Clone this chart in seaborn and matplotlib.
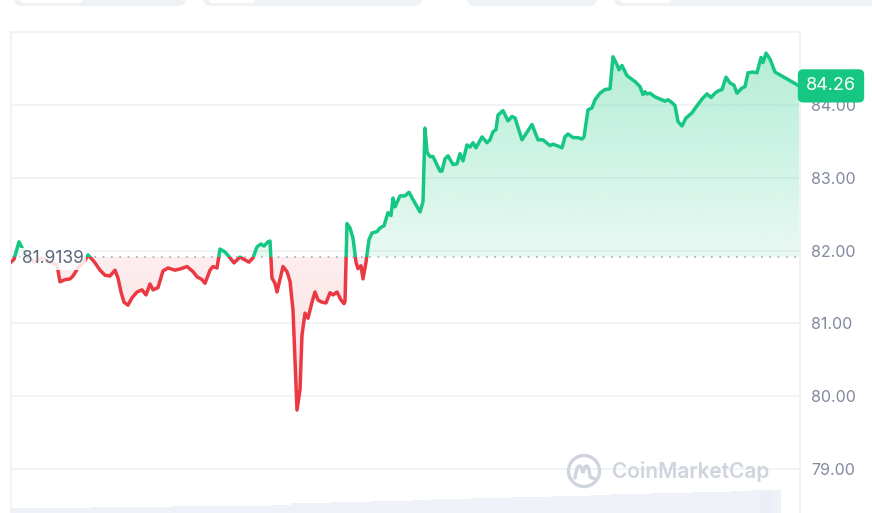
import numpy as np
import pandas as pd
import matplotlib
matplotlib.use('Agg')
import matplotlib.pyplot as plt
import matplotlib.colors as mcolors
import seaborn as sns
from matplotlib.path import Path
from matplotlib.patches import Rectangle, FancyBboxPatch, Circle, PathPatch
from matplotlib.transforms import blended_transform_factory

# temps (unitats arbitràries, 0 = inici de la finestra) i preu
temps = [0, 3, 8, 12, 17, 24, 31, 39, 46, 49, 54, 59, 62, 67, 73, 77, 81, 84, 89, 94,
         99, 104, 107, 110, 113, 117, 121, 126, 131, 135, 139, 142, 147, 152, 157, 164, 170, 176, 182, 186,
         191, 194, 199, 202, 206, 209, 214, 219, 223, 229, 234, 238, 242, 246, 250, 253, 257, 259, 261, 264,
         266, 272, 276, 279, 282, 284, 286, 289, 291, 294, 297, 301, 304, 307, 311, 315, 319, 322, 326, 330,
         333, 334, 336, 339, 342, 345, 347, 350, 352, 355, 358, 361, 366, 369, 373, 377, 380, 382, 384, 389,
         394, 398, 402, 409, 412, 414, 416, 419, 422, 429, 431, 434, 437, 442, 446, 449, 452, 456, 459, 462,
         465, 471, 476, 479, 482, 485, 487, 492, 497, 501, 504, 511, 521, 527, 532, 539, 542, 546, 551, 554,
         557, 562, 567, 571, 573, 577, 581, 584, 589, 594, 599, 602, 606, 608, 611, 616, 619, 624, 629, 632,
         634, 636, 639, 644, 649, 654, 657, 661, 664, 667, 671, 675, 681, 684, 691, 696, 700, 704, 707, 711,
         715, 719, 723, 726, 731, 734, 737, 742, 746, 750, 752, 755, 759, 764, 788]
preu = [81.84, 81.88, 82.12, 82.01, 81.90, 81.84, 81.90, 81.84, 81.80, 81.57,
        81.60, 81.61, 81.65, 81.76, 81.84, 81.94, 81.88, 81.83, 81.73, 81.66,
        81.65, 81.73, 81.62, 81.43, 81.29, 81.25, 81.35, 81.43, 81.46, 81.39,
        81.54, 81.46, 81.49, 81.72, 81.76, 81.73, 81.75, 81.78, 81.71, 81.64,
        81.60, 81.55, 81.73, 81.78, 81.76, 82.02, 81.98, 81.90, 81.83, 81.91,
        81.87, 81.84, 81.90, 82.05, 82.09, 82.06, 82.12, 82.13, 81.62, 81.55,
        81.43, 81.78, 81.71, 81.58, 81.18, 80.50, 79.81, 80.09, 80.84, 81.14,
        81.07, 81.29, 81.43, 81.32, 81.29, 81.28, 81.42, 81.39, 81.43, 81.32,
        81.27, 81.30, 82.37, 82.31, 82.17, 81.84, 81.75, 81.79, 81.61, 81.84,
        82.15, 82.24, 82.26, 82.31, 82.34, 82.52, 82.48, 82.72, 82.60, 82.75,
        82.75, 82.80, 82.70, 82.53, 82.67, 83.68, 83.35, 83.29, 83.29, 83.09,
        83.09, 83.26, 83.30, 83.18, 83.19, 83.33, 83.23, 83.45, 83.42, 83.48,
        83.41, 83.56, 83.48, 83.52, 83.63, 83.66, 83.86, 83.92, 83.78, 83.84,
        83.82, 83.52, 83.73, 83.52, 83.52, 83.44, 83.46, 83.44, 83.41, 83.56,
        83.60, 83.55, 83.55, 83.53, 83.56, 83.93, 83.96, 84.07, 84.16, 84.21,
        84.22, 84.66, 84.55, 84.48, 84.54, 84.40, 84.37, 84.32, 84.25, 84.14,
        84.18, 84.15, 84.16, 84.11, 84.08, 84.05, 84.07, 84.03, 83.99, 83.77,
        83.71, 83.82, 83.89, 83.95, 84.08, 84.15, 84.10, 84.16, 84.19, 84.21,
        84.38, 84.30, 84.27, 84.16, 84.23, 84.25, 84.44, 84.45, 84.44, 84.65,
        84.58, 84.71, 84.63, 84.45, 84.26]

preu_obertura = 81.9139
preu_actual = 84.26
ticks_y = [79, 80, 81, 82, 83, 84]

# volum (barres tènues a la part baixa)
temps_vol = [10, 30, 50, 70, 90, 110, 130, 150, 170, 190, 210, 230, 250, 270, 290, 310, 330, 350, 370, 390,
             410, 430, 450, 470, 490, 510, 530, 550, 570, 590, 610, 630, 650, 670, 690, 710, 730, 750, 760]
volum = [5, 5, 5, 5.5, 6, 6, 6, 6.5, 7, 7, 7, 7.5, 7.5, 8, 10, 10.5, 11, 11.5, 12, 12.5,
         13, 14, 14.5, 15, 15.5, 16, 16.5, 17, 17.5, 18, 19, 19.5, 20, 20.5, 21, 21.5, 22, 23, 23]

VERD = '#16c784'
VERMELL = '#ea3943'
GRAELLA = '#eff2f5'
TEXT_EIX = '#808a9d'
MARCA = '#cfd4de'

sns.set_theme(style='white')
plt.rcParams['font.family'] = ['Inter', 'DejaVu Sans']

W, H = 872, 513
fig = plt.figure(figsize=(W / 100, H / 100), dpi=100)
fig.patch.set_facecolor('white')

x_max = 789
y_min, y_max = 78.396, 85.0
ax = fig.add_axes([11 / W, 0, 789 / W, 481 / H])
ax.set_facecolor('white')

df = pd.DataFrame({'t': temps, 'preu': preu})
t = np.array(temps, dtype=float)
p = np.array(preu)

for v in ticks_y:
    ax.axhline(v, color=GRAELLA, lw=1.2, zorder=0)


def farciment_degradat(poly, color, a_dalt, a_baix, y0, y1):
    cami = Path.make_compound_path(*poly.get_paths())
    rgba = np.zeros((256, 1, 4))
    rgba[..., :3] = mcolors.to_rgb(color)
    rgba[..., 3] = np.linspace(a_dalt, a_baix, 256)[:, None]
    im = ax.imshow(rgba, extent=[0, x_max, y0, y1], origin='upper', aspect='auto',
                   zorder=1, interpolation='bicubic')
    im.set_clip_path(cami, ax.transData)


pv = ax.fill_between(t, p, preu_obertura, where=p >= preu_obertura, interpolate=True,
                     facecolor='none', edgecolor='none')
pr = ax.fill_between(t, p, preu_obertura, where=p <= preu_obertura, interpolate=True,
                     facecolor='none', edgecolor='none')
farciment_degradat(pv, VERD, 0.34, 0.10, preu_obertura, y_max)
farciment_degradat(pr, VERMELL, 0.09, 0.22, y_min, preu_obertura)

ax.axhline(preu_obertura, color='#a6acb9', lw=1.2, ls=(0, (1, 4)), zorder=2)

# línia verda per sobre i vermella per sota del preu d'obertura
sns.lineplot(data=df, x='t', y='preu', ax=ax, color=VERD, lw=2.5, sort=False, zorder=4)
linia_v = ax.lines[-1]
linia_v.set_clip_path(Rectangle((0, preu_obertura), x_max, 10, transform=ax.transData))
sns.lineplot(data=df, x='t', y='preu', ax=ax, color=VERMELL, lw=2.5, sort=False, zorder=4)
linia_r = ax.lines[-1]
linia_r.set_clip_path(Rectangle((0, y_min - 5), x_max, preu_obertura - y_min + 5,
                                transform=ax.transData))

ax.set_xlim(0, x_max)
ax.set_ylim(y_min, y_max)
ax.set_xlabel('')
ax.set_ylabel('')
ax.set_xticks([])
ax.set_yticks(ticks_y)
ax.set_yticklabels([f'{v:.2f}' for v in ticks_y])
ax.yaxis.tick_right()
ax.tick_params(axis='y', length=0, pad=8, labelsize=11.5, labelcolor=TEXT_EIX)
for lloc in ['top', 'left', 'right']:
    ax.spines[lloc].set_color(GRAELLA)
    ax.spines[lloc].set_linewidth(1.2)
ax.spines['bottom'].set_visible(False)

mix = blended_transform_factory(ax.transAxes, ax.transData)
ax.text(1 + 31 / x_max, preu_actual, f'{preu_actual:.2f}', transform=mix, ha='center',
        va='center', color='white', fontsize=13, clip_on=False, zorder=10,
        bbox=dict(boxstyle='round,pad=0.45,rounding_size=0.3', fc=VERD, ec='none'))
ax.text(11 / x_max, preu_obertura - 0.03, f'{preu_obertura:.4f}', transform=mix, ha='left',
        va='center', color='#58667e', fontsize=12.5, zorder=6,
        bbox=dict(boxstyle='square,pad=0.12', fc='white', ec='none', alpha=0.85))

# volum
axv = fig.add_axes([11 / W, 0, 789 / W, 40 / H])
axv.bar(temps_vol, volum, width=20, color='#eaedf7', alpha=0.75, linewidth=0)
axv.set_xlim(0, x_max)
axv.set_ylim(0, 40)
axv.axis('off')
axv.patch.set_alpha(0)

# marca d'aigua: logotip (cercle amb una "M" ondulada) i nom
cx, cy = 584, H - 471
fig.patches.append(Circle((cx / 100, cy / 100), 0.155, transform=fig.dpi_scale_trans,
                          fill=False, ec=MARCA, lw=2.4))
ona = Path([(cx - 9, cy - 7), (cx - 7, cy + 8), (cx - 3, cy + 8), (cx - 1, cy - 2),
            (cx + 1, cy + 8), (cx + 5, cy + 8), (cx + 6, cy - 6), (cx + 11, cy - 8)],
           [Path.MOVETO, Path.CURVE4, Path.CURVE4, Path.CURVE4,
            Path.CURVE4, Path.CURVE4, Path.CURVE4, Path.LINETO])
ona = Path(ona.vertices / 100, ona.codes)
fig.patches.append(PathPatch(ona, transform=fig.dpi_scale_trans, fill=False, ec=MARCA, lw=2.4,
                             capstyle='round'))
fig.text(612 / W, 1 - 472 / H, 'CoinMarketCap', fontsize=15, color=MARCA,
         ha='left', va='center', fontweight='semibold')

# pestanyes retallades a dalt
for x0, x1 in [(14, 186), (203, 422), (467, 597), (614, 880)]:
    fig.patches.append(FancyBboxPatch((x0 / 100, (H - 6) / 100), (x1 - x0) / 100, 0.2,
                                      boxstyle='round,pad=0,rounding_size=0.08',
                                      transform=fig.dpi_scale_trans, fc=GRAELLA, ec='none'))
for x0, x1 in [(19, 83), (208, 255), (619, 672)]:
    fig.patches.append(FancyBboxPatch((x0 / 100, (H - 3) / 100), (x1 - x0) / 100, 0.2,
                                      boxstyle='round,pad=0,rounding_size=0.05',
                                      transform=fig.dpi_scale_trans, fc='white', ec='none'))

fig.savefig('out.png', dpi=100)
